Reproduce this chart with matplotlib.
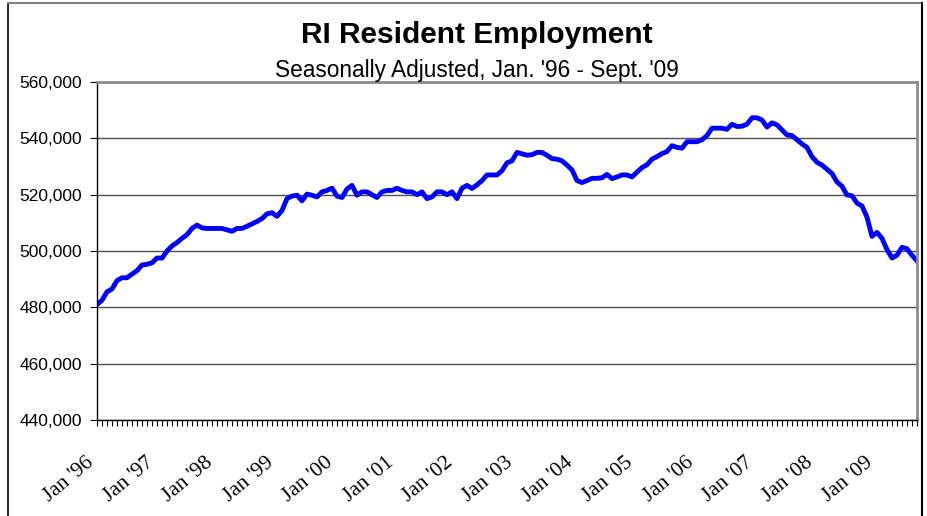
import matplotlib.pyplot as plt
from matplotlib.lines import Line2D
from matplotlib.ticker import FuncFormatter, MultipleLocator
import matplotlib.transforms as mtransforms

# monthly resident employment, Jan '96 .. Sep '09
emp_96_99 = [481.0, 482.5, 485.5, 486.5, 489.5, 490.5, 490.5, 491.8, 493.0, 495.0, 495.3, 495.8,
             497.5, 497.5, 500.0, 501.8, 503.0, 504.5, 505.8, 508.0, 509.2, 508.2, 508.0, 508.0,
             508.0, 508.0, 507.5, 507.0, 508.0, 508.0, 508.8, 509.6, 510.5, 511.5, 513.2, 513.6,
             512.3, 514.4, 518.6, 519.5, 519.8, 517.8, 520.2, 519.8, 519.2, 521.0, 521.5, 522.3]
emp_00_03 = [519.5, 519.0, 522.0, 523.3, 519.8, 521.0, 521.0, 520.0, 519.0, 521.0, 521.5, 521.5,
             522.3, 521.5, 521.0, 521.0, 520.0, 521.0, 518.6, 519.2, 521.0, 521.0, 520.0, 521.0,
             518.6, 522.3, 523.3, 522.2, 523.5, 525.0, 527.0, 527.0, 527.0, 528.5, 531.3, 532.0,
             535.0, 534.5, 534.0, 534.2, 535.0, 535.0, 534.0, 532.8, 532.6, 532.0, 530.5, 528.8]
emp_04_07 = [525.0, 524.3, 525.0, 525.8, 525.8, 526.0, 527.2, 525.7, 526.3, 527.0, 527.0, 526.3,
             528.0, 529.6, 530.6, 532.6, 533.5, 534.6, 535.3, 537.4, 536.8, 536.5, 538.8, 538.8,
             538.8, 539.5, 541.0, 543.6, 543.6, 543.6, 543.2, 545.0, 544.2, 544.3, 545.0, 547.3,
             547.3, 546.5, 544.0, 545.5, 544.8, 543.0, 541.2, 541.0, 539.5, 538.0, 536.8, 533.5]
emp_08_09 = [531.5, 530.5, 529.0, 527.5, 524.5, 523.0, 519.9, 519.6, 517.0, 516.0, 512.0, 505.2,
             506.6, 504.5, 500.5, 497.5, 498.5, 501.3, 500.8, 498.5, 496.5]
employment = [v * 1000 for v in emp_96_99 + emp_00_03 + emp_04_07 + emp_08_09]

years = ["96", "97", "98", "99", "00", "01", "02", "03", "04", "05", "06", "07", "08", "09"]
tick_labels = ["Jan '" + y for y in years]
months = list(range(len(employment)))

fig = plt.figure(figsize=(9.27, 5.16), dpi=100)
ax = fig.add_axes([97 / 927, 1 - 420 / 516, 820 / 927, 338 / 516])

ax.plot(months, employment, color='#0000ff', lw=3.5, solid_joinstyle='round')

ax.set_xlim(0, len(employment) - 1)
ax.set_ylim(440000, 560000)
ax.yaxis.set_major_locator(MultipleLocator(20000))
ax.yaxis.set_major_formatter(FuncFormatter(lambda v, p: f"{int(v):,}"))
ax.grid(axis='y', color='#505050', lw=1.0)
ax.set_axisbelow(True)

ax.set_xticks([12 * i for i in range(len(years))])
ax.set_xticks(months, minor=True)
ax.set_xticklabels(tick_labels, rotation=40, ha='right', va='center',
                   rotation_mode='anchor', fontfamily='Liberation Serif', fontsize=15.5)
ax.tick_params(axis='x', which='both', direction='out', length=4, width=0.8, pad=25)
ax.tick_params(axis='y', direction='out', length=5, width=0.8, pad=6, labelsize=12.5)
for lab in ax.get_yticklabels():
    lab.set_fontfamily('Liberation Sans')

shift = mtransforms.ScaledTranslation(-6 / 100, 0, fig.dpi_scale_trans)
for lab in ax.get_xticklabels():
    lab.set_transform(lab.get_transform() + shift)

for side in ('top', 'right'):
    ax.spines[side].set_color('#8c8c8c')
    ax.spines[side].set_linewidth(2)
for side in ('left', 'bottom'):
    ax.spines[side].set_color('black')
    ax.spines[side].set_linewidth(1)

fig.text(477 / 927, 1 - 35 / 516, 'RI Resident Employment', ha='center', va='center',
         fontsize=21.5, fontweight='bold', fontfamily='Liberation Sans')
fig.text(477 / 927, 1 - 70 / 516, "Seasonally Adjusted, Jan. '96 - Sept. '09", ha='center',
         va='center', fontsize=16.3, fontfamily='Liberation Sans')

# outer chart border
fig.add_artist(Line2D([8 / 927, 8 / 927], [0, 1 - 3 / 516], transform=fig.transFigure,
                      color='black', lw=1.2))
fig.add_artist(Line2D([8 / 927, 922 / 927], [1 - 3 / 516, 1 - 3 / 516],
                      transform=fig.transFigure, color='#808080', lw=1.5))
fig.add_artist(Line2D([922 / 927, 922 / 927], [0, 1 - 3 / 516], transform=fig.transFigure,
                      color='black', lw=1.5))

fig.savefig('out.png', dpi=100)
